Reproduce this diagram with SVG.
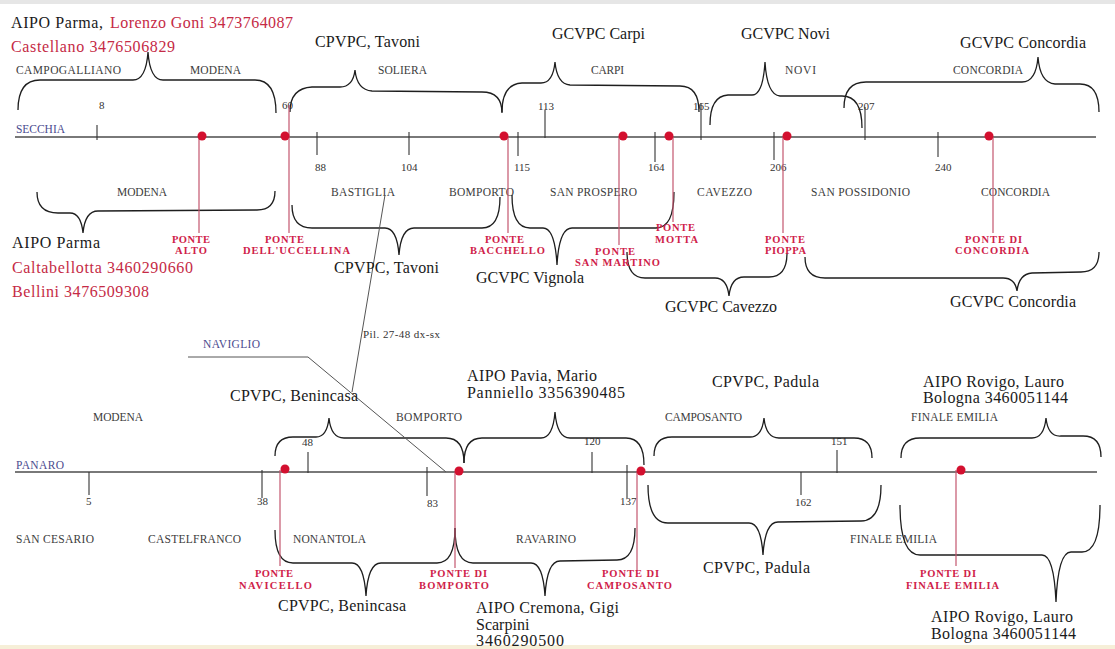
<svg xmlns="http://www.w3.org/2000/svg" width="1115" height="649" viewBox="0 0 1115 649">
<style>
.ax{stroke:#4d4d4d;stroke-width:1.3}
.tk{stroke:#333;stroke-width:1.1}
.br{fill:none;stroke:#1e1e1e;stroke-width:1.3}
.ln{fill:none;stroke:#555;stroke-width:1}
.rl{stroke:#c3566e;stroke-width:1.2}
.dot{fill:#d3102f}
.pl{font-family:"Liberation Serif",serif;font-size:11.5px;fill:#3c3c3c}
.num{font-family:"Liberation Serif",serif;font-size:11px;fill:#333}
.rv{font-family:"Liberation Serif",serif;font-size:11.5px;fill:#4b4b8f}
.an{font-family:"Liberation Serif",serif;font-size:16px;fill:#1a1a1a}
.rd{fill:#c52a45}
.bl{font-family:"Liberation Serif",serif;font-size:10.5px;font-weight:bold;fill:#cf2149}
</style>
<rect x="0" y="0" width="1115" height="649" fill="#ffffff"/>
<rect x="0" y="0" width="1115" height="4" fill="#e6e6e6"/>
<rect x="0" y="645" width="1115" height="4" fill="#f6efd8"/>

<g id="axes">
<line class="ax" x1="15" y1="137" x2="1096" y2="137"/>
<line class="ax" x1="15" y1="472" x2="1097" y2="472"/>
<text class="rv" x="16" y="133" textLength="49">SECCHIA</text>
<text class="rv" x="16" y="469" textLength="48">PANARO</text>
</g>

<g id="ticks">
<line class="tk" x1="97" y1="125" x2="97" y2="140"/>
<line class="tk" x1="317" y1="132" x2="317" y2="155"/>
<line class="tk" x1="409" y1="132" x2="409" y2="155"/>
<line class="tk" x1="518" y1="132" x2="518" y2="156"/>
<line class="tk" x1="545" y1="110" x2="545" y2="138"/>
<line class="tk" x1="655" y1="132" x2="655" y2="162"/>
<line class="tk" x1="701" y1="103" x2="701" y2="140"/>
<line class="tk" x1="774" y1="132" x2="774" y2="160"/>
<line class="tk" x1="865" y1="107" x2="865" y2="140"/>
<line class="tk" x1="938" y1="132" x2="938" y2="157"/>
<line class="tk" x1="89" y1="472" x2="89" y2="495"/>
<line class="tk" x1="262" y1="470" x2="262" y2="498"/>
<line class="tk" x1="308" y1="452" x2="308" y2="473"/>
<line class="tk" x1="427" y1="467" x2="427" y2="496"/>
<line class="tk" x1="592" y1="452" x2="592" y2="473"/>
<line class="tk" x1="627" y1="465" x2="627" y2="498"/>
<line class="tk" x1="801" y1="472" x2="801" y2="495"/>
<line class="tk" x1="837" y1="450" x2="837" y2="473"/>
<text class="num" x="99" y="109">8</text>
<text class="num" x="282" y="109">60</text>
<text class="num" x="315" y="171">88</text>
<text class="num" x="401" y="171">104</text>
<text class="num" x="538" y="110">113</text>
<text class="num" x="514" y="171">115</text>
<text class="num" x="648" y="171">164</text>
<text class="num" x="693" y="110">165</text>
<text class="num" x="770" y="171">206</text>
<text class="num" x="858" y="110">207</text>
<text class="num" x="935" y="171">240</text>
<text class="num" x="86" y="505">5</text>
<text class="num" x="257" y="505">38</text>
<text class="num" x="302" y="446">48</text>
<text class="num" x="427" y="507">83</text>
<text class="num" x="584" y="445">120</text>
<text class="num" x="620" y="505">137</text>
<text class="num" x="831" y="445">151</text>
<text class="num" x="795" y="506">162</text>
</g>

<g id="places">
<text class="pl" x="16" y="74" textLength="105">CAMPOGALLIANO</text>
<text class="pl" x="190" y="74" textLength="51">MODENA</text>
<text class="pl" x="378" y="74" textLength="49">SOLIERA</text>
<text class="pl" x="591" y="74" textLength="33">CARPI</text>
<text class="pl" x="785" y="74" textLength="31">NOVI</text>
<text class="pl" x="953" y="74" textLength="70">CONCORDIA</text>
<text class="pl" x="117" y="196" textLength="50">MODENA</text>
<text class="pl" x="331" y="196" textLength="64">BASTIGLIA</text>
<text class="pl" x="449" y="196" textLength="65">BOMPORTO</text>
<text class="pl" x="550" y="196" textLength="87">SAN PROSPERO</text>
<text class="pl" x="697" y="196" textLength="55">CAVEZZO</text>
<text class="pl" x="811" y="196" textLength="99">SAN POSSIDONIO</text>
<text class="pl" x="981" y="196" textLength="69">CONCORDIA</text>
<text class="pl" x="93" y="421" textLength="50">MODENA</text>
<text class="pl" x="396" y="421" textLength="66">BOMPORTO</text>
<text class="pl" x="665" y="421" textLength="77">CAMPOSANTO</text>
<text class="pl" x="911" y="421" textLength="87">FINALE EMILIA</text>
<text class="pl" x="16" y="543" textLength="78">SAN CESARIO</text>
<text class="pl" x="148" y="543" textLength="93">CASTELFRANCO</text>
<text class="pl" x="293" y="543" textLength="73">NONANTOLA</text>
<text class="pl" x="516" y="543" textLength="60">RAVARINO</text>
<text class="pl" x="850" y="543" textLength="87">FINALE EMILIA</text>
</g>

<g id="connectors">
<path class="br" d="M18,110 Q18,80 40,80 L133,80 Q146,80 148,52 Q150,80 163,80 L255,80 Q276,80 276,113"/>
<path class="br" d="M290,112 Q290,88 312,87 L340,87 Q353,87 355,70 Q357,90 372,91 L482,92 Q502,92 502,113"/>
<path class="br" d="M502,112 Q502,84 522,83 L541,83 Q553,83 555,62 Q557,84 570,85 L680,86 Q699,86 699,112"/>
<path class="br" d="M710,125 Q710,96 728,95 L752,95 Q763,95 765,62 Q767,95 780,96 L842,96 Q862,96 862,128"/>
<path class="br" d="M844,108 Q844,82 866,82 L1022,82 Q1036,82 1038,57 Q1040,83 1055,84 L1080,84 Q1099,84 1099,112"/>
<path class="br" d="M37,192 Q37,213 58,213 L70,213 Q81,213 83,233 Q85,211 98,211 L257,210 Q275,210 275,191"/>
<path class="br" d="M292,205 Q292,228 312,228 L385,228 Q397,228 399,255 Q401,228 414,228 L482,228 Q500,228 500,197"/>
<path class="br" d="M512,195 Q512,228 530,228 L543,228 Q555,228 557,265 Q559,228 572,228 L656,228 Q674,228 674,192"/>
<path class="br" d="M627,252 Q627,278 645,278 L715,278 Q727,278 729,296 Q731,277 744,277 L769,277 Q787,277 787,253"/>
<path class="br" d="M805,257 Q805,278 825,278 L1003,278 Q1015,278 1017,291 Q1019,274 1032,273 L1081,272 Q1099,272 1099,252"/>
<path class="br" d="M275,456 Q275,437 293,437 L316,437 Q327,437 329,418 Q331,438 344,438 L446,438 Q464,438 464,463"/>
<path class="br" d="M464,463 Q464,438 482,438 L541,438 Q553,438 555,412 Q557,438 570,438 L626,438 Q644,438 644,465"/>
<path class="br" d="M654,456 Q654,437 672,437 L750,437 Q762,437 764,418 Q766,438 779,438 L854,438 Q872,438 872,458"/>
<path class="br" d="M901,458 Q901,438 920,438 L1032,438 Q1044,438 1046,418 Q1048,437 1061,436 L1083,436 Q1101,436 1101,457"/>
<path class="br" d="M275,530 Q275,563 293,563 L352,563 Q364,563 366,596 Q368,563 381,563 L437,563 Q455,563 455,528"/>
<path class="br" d="M455,528 Q455,563 473,563 L531,563 Q543,563 545,596 Q547,561 560,561 L617,560 Q635,560 635,528"/>
<path class="br" d="M648,485 Q648,523 668,523 L749,523 Q761,523 763,555 Q765,522 778,522 L861,521 Q881,521 881,485"/>
<path class="br" d="M900,505 Q900,555 920,555 L1042,555 Q1054,555 1056,602 Q1058,552 1071,552 L1082,552 Q1100,552 1100,505"/>
<polyline class="ln" points="188,357 308,357 446,472"/>
<line class="ln" x1="385" y1="195" x2="352" y2="392"/>
</g>

<g id="naviglio">
<text class="rv" x="203" y="348" textLength="57">NAVIGLIO</text>
<text class="num" x="363" y="338" font-size="10" textLength="77">Pil. 27-48 dx-sx</text>
</g>

<g id="ponte-alto">
<line class="rl" x1="199" y1="137" x2="199" y2="233"/>
<circle class="dot" cx="202" cy="136" r="4.5"/>
<text class="bl" x="172" y="243" textLength="38">PONTE</text>
<text class="bl" x="175" y="254" textLength="32">ALTO</text>
</g>
<g id="ponte-uccellina">
<line class="rl" x1="289" y1="105" x2="289" y2="233"/>
<circle class="dot" cx="285" cy="136" r="4.5"/>
<text class="bl" x="265" y="243" textLength="39">PONTE</text>
<text class="bl" x="243" y="254" textLength="107">DELL'UCCELLINA</text>
</g>
<g id="ponte-bacchello">
<line class="rl" x1="508" y1="137" x2="508" y2="233"/>
<circle class="dot" cx="504" cy="136" r="4.5"/>
<text class="bl" x="485" y="243" textLength="39">PONTE</text>
<text class="bl" x="470" y="254" textLength="75">BACCHELLO</text>
</g>
<g id="ponte-san-martino">
<line class="rl" x1="619" y1="137" x2="619" y2="245"/>
<circle class="dot" cx="623" cy="136" r="4.5"/>
<text class="bl" x="595" y="255" textLength="40">PONTE</text>
<text class="bl" x="575" y="266" textLength="85">SAN MARTINO</text>
</g>
<g id="ponte-motta">
<line class="rl" x1="673" y1="137" x2="673" y2="222"/>
<circle class="dot" cx="669" cy="136" r="4.5"/>
<text class="bl" x="656" y="231" textLength="39">PONTE</text>
<text class="bl" x="655" y="243" textLength="43">MOTTA</text>
</g>
<g id="ponte-pioppa">
<line class="rl" x1="783" y1="137" x2="783" y2="233"/>
<circle class="dot" cx="787" cy="136" r="4.5"/>
<text class="bl" x="765" y="243" textLength="40">PONTE</text>
<text class="bl" x="765" y="254" textLength="41">PIOPPA</text>
</g>
<g id="ponte-concordia">
<line class="rl" x1="993" y1="137" x2="993" y2="233"/>
<circle class="dot" cx="989" cy="136" r="4.5"/>
<text class="bl" x="965" y="243" textLength="57">PONTE DI</text>
<text class="bl" x="955" y="254" textLength="74">CONCORDIA</text>
</g>
<g id="ponte-navicello">
<line class="rl" x1="280" y1="470" x2="280" y2="566"/>
<circle class="dot" cx="285" cy="469" r="4.5"/>
<text class="bl" x="255" y="577" textLength="38">PONTE</text>
<text class="bl" x="239" y="589" textLength="73">NAVICELLO</text>
</g>
<g id="ponte-bomporto">
<line class="rl" x1="455" y1="472" x2="455" y2="568"/>
<circle class="dot" cx="459" cy="471" r="4.5"/>
<text class="bl" x="430" y="577" textLength="57">PONTE DI</text>
<text class="bl" x="419" y="589" textLength="70">BOMPORTO</text>
</g>
<g id="ponte-camposanto">
<line class="rl" x1="637" y1="472" x2="637" y2="570"/>
<circle class="dot" cx="641" cy="471" r="4.5"/>
<text class="bl" x="602" y="577" textLength="57">PONTE DI</text>
<text class="bl" x="587" y="589" textLength="85">CAMPOSANTO</text>
</g>
<g id="ponte-finale-emilia">
<line class="rl" x1="956" y1="470" x2="956" y2="566"/>
<circle class="dot" cx="961" cy="470" r="4.5"/>
<text class="bl" x="920" y="577" textLength="56">PONTE DI</text>
<text class="bl" x="906" y="589" textLength="93">FINALE EMILIA</text>
</g>

<g id="annotations">
<text class="an" x="11" y="28" textLength="92">AIPO Parma,</text>
<text class="an rd" x="110" y="28" textLength="183">Lorenzo Goni 3473764087</text>
<text class="an rd" x="11" y="52" textLength="164">Castellano 3476506829</text>
<text class="an" x="315" y="47" textLength="105">CPVPC, Tavoni</text>
<text class="an" x="552" y="39" textLength="93">GCVPC Carpi</text>
<text class="an" x="741" y="39" textLength="89">GCVPC Novi</text>
<text class="an" x="960" y="48" textLength="126">GCVPC Concordia</text>
<text class="an" x="12" y="248" textLength="88">AIPO Parma</text>
<text class="an rd" x="12" y="273" textLength="181">Caltabellotta 3460290660</text>
<text class="an rd" x="12" y="297" textLength="137">Bellini 3476509308</text>
<text class="an" x="334" y="273" textLength="105">CPVPC, Tavoni</text>
<text class="an" x="476" y="283" textLength="108">GCVPC Vignola</text>
<text class="an" x="665" y="312" textLength="112">GCVPC Cavezzo</text>
<text class="an" x="950" y="307" textLength="126">GCVPC Concordia</text>
<text class="an" x="230" y="401" textLength="128">CPVPC, Benincasa</text>
<text class="an" x="467" y="381" textLength="130">AIPO Pavia, Mario</text>
<text class="an" x="467" y="398" textLength="158">Panniello 3356390485</text>
<text class="an" x="712" y="387" textLength="107">CPVPC, Padula</text>
<text class="an" x="923" y="387" textLength="141">AIPO Rovigo, Lauro</text>
<text class="an" x="923" y="403" textLength="145">Bologna 3460051144</text>
<text class="an" x="278" y="611" textLength="128">CPVPC, Benincasa</text>
<text class="an" x="476" y="613" textLength="143">AIPO Cremona, Gigi</text>
<text class="an" x="476" y="630">Scarpini</text>
<text class="an" x="476" y="646" textLength="88">3460290500</text>
<text class="an" x="703" y="573" textLength="107">CPVPC, Padula</text>
<text class="an" x="931" y="622" textLength="142">AIPO Rovigo, Lauro</text>
<text class="an" x="931" y="639" textLength="145">Bologna 3460051144</text>
</g>
</svg>
